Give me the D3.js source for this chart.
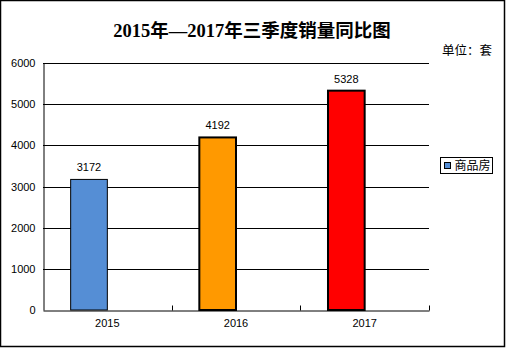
<!DOCTYPE html>
<html><head><meta charset="utf-8">
<script src="https://cdn.jsdelivr.net/npm/d3@7"></script>
<style>body{margin:0;background:#fff}svg{display:block}</style>
</head><body>
<svg id="c" width="506" height="348"></svg>
<script>
const categories = ["2015", "2016", "2017"];
const values = [3172, 4192, 5328];
const barColors = ["#558ED5", "#FF9900", "#FF0000"];
const yTicks = [0, 1000, 2000, 3000, 4000, 5000, 6000];
const title = "2015年—2017年三季度销量同比图";
const unitLabel = "单位：套";
const legendLabel = "商品房";

(function () {
const svg = d3.select("#c");
const W = 506, H = 348;
svg.append("rect").attr("x", 0.5).attr("y", 0.5).attr("width", W - 2).attr("height", H - 2)
  .attr("fill", "#fff").attr("stroke", "#000").attr("stroke-width", 1.5);

const pL = 43, pR = 429, pT = 63, pB = 310;
const x = d3.scaleBand().domain(categories).range([pL, pR]);
const y = d3.scaleLinear().domain([0, 6000]).range([pB, pT]);
const font = "'Liberation Sans', 'Noto Sans CJK SC', sans-serif";

svg.append("g").selectAll("line").data(yTicks.filter(d => d > 0)).join("line")
  .attr("x1", pL).attr("x2", pR)
  .attr("y1", d => Math.round(y(d)) + 0.5).attr("y2", d => Math.round(y(d)) + 0.5)
  .attr("stroke", "#000").attr("stroke-width", 1);

const yAxis = svg.append("g").attr("transform", `translate(${pL + 0.5},0)`)
  .call(d3.axisLeft(y).tickValues(yTicks).tickSize(0).tickPadding(8).tickFormat(d3.format("d")));
yAxis.select(".domain").attr("stroke", "#000");
yAxis.selectAll("text").attr("font-family", font).attr("font-size", 11).attr("fill", "#000");

const xAxis = svg.append("g").attr("transform", `translate(0,${pB + 0.5})`)
  .call(d3.axisBottom(x).tickSize(0).tickPadding(9));
xAxis.select(".domain").attr("stroke", "#000");
xAxis.selectAll("text").attr("font-family", font).attr("font-size", 11).attr("fill", "#000");
const bounds = categories.map(c => x(c) + x.bandwidth());
xAxis.selectAll(".bt").data(bounds).join("line").attr("class", "bt")
  .attr("x1", d => Math.round(d) + 0.5).attr("x2", d => Math.round(d) + 0.5)
  .attr("y1", -5).attr("y2", 0).attr("stroke", "#000");

const bw = x.bandwidth() * 0.285;
const off = x.bandwidth() * 0.215;
svg.append("g").selectAll("rect").data(values).join("rect")
  .attr("x", (d, i) => x(categories[i]) + off)
  .attr("y", d => y(d))
  .attr("width", bw)
  .attr("height", d => pB - y(d))
  .attr("fill", (d, i) => barColors[i])
  .attr("stroke", "#000")
  .attr("stroke-width", (d, i) => i === 0 ? 1 : 2);

svg.append("g").selectAll("text").data(values).join("text")
  .attr("x", (d, i) => x(categories[i]) + off + bw / 2)
  .attr("y", d => y(d) - 8)
  .attr("text-anchor", "middle")
  .attr("font-family", font).attr("font-size", 11)
  .text(d => d);

svg.append("text").attr("x", 252).attr("y", 37).attr("text-anchor", "middle")
  .attr("font-family", "'Liberation Serif', 'Noto Sans CJK SC', serif")
  .attr("font-weight", "bold").attr("font-size", 18.5).text(title);
svg.append("text").attr("x", 492).attr("y", 55).attr("text-anchor", "end")
  .attr("font-family", "'Noto Sans CJK SC', sans-serif").attr("font-size", 12.5).text(unitLabel);

const lg = svg.append("g").attr("transform", "translate(440.5,157.5)");
lg.append("rect").attr("width", 52).attr("height", 16).attr("fill", "#fff").attr("stroke", "#000");
lg.append("rect").attr("x", 4).attr("y", 5).attr("width", 6).attr("height", 6)
  .attr("fill", barColors[0]).attr("stroke", "#000");
lg.append("text").attr("x", 14).attr("y", 12.5).attr("font-family", "'Noto Sans CJK SC', sans-serif")
  .attr("font-size", 12).text(legendLabel);
})();
</script>
</body></html>
